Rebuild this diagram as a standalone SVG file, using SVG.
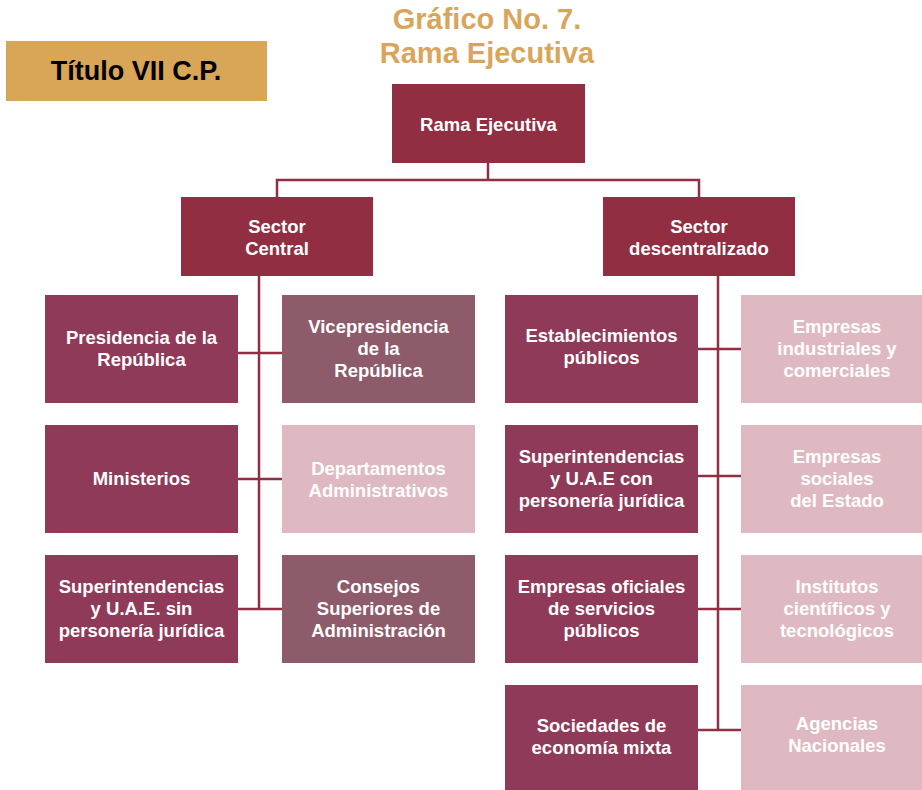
<svg xmlns="http://www.w3.org/2000/svg" width="922" height="790" viewBox="0 0 922 790">
  <style>
    .t { font-family: "Liberation Sans", Arial, Helvetica, sans-serif; font-weight: bold; text-anchor: middle; }
    .lbl { font-size: 18.5px; fill: #ffffff; }
    .head { font-size: 29px; fill: #D9A55B; }
    .dark { fill: #922E42; }
    .rose { fill: #8F3A58; }
    .mauve { fill: #8E5B6B; }
    .light { fill: #DFB9C1; }
    .conn { stroke: #922E42; stroke-width: 2.5; fill: none; }
  </style>
  <rect width="922" height="790" fill="#ffffff"/>

  <!-- heading -->
  <g id="heading">
    <text class="t head" x="487" y="29">Gráfico No. 7.</text>
    <text class="t head" x="487" y="63">Rama Ejecutiva</text>
  </g>

  <g id="titulo">
    <rect x="6" y="41" width="261" height="60" fill="#D9A556"/>
    <text class="t" x="136" y="80" font-size="27" fill="#000000">Título VII C.P.</text>
  </g>

  <!-- connectors -->
  <g id="connectors" class="conn">
    <path d="M488 163 V180 M277 197 V180 H699 V197"/>
    <path d="M259 276 V609 M238 353 H282 M238 479 H282 M238 609 H282"/>
    <path d="M718 276 V730 M698 349 H741 M698 476 H741 M698 609 H741 M698 730 H741"/>
  </g>

  <g id="rama-ejecutiva">
    <rect class="dark" x="392" y="84" width="193" height="79"/>
    <text class="t lbl" x="488.5" y="131">Rama Ejecutiva</text>
  </g>

  <g id="sector-central">
    <rect class="dark" x="181" y="197" width="192" height="79"/>
    <text class="t lbl" x="277" y="233">Sector</text>
    <text class="t lbl" x="277" y="255">Central</text>
  </g>

  <g id="sector-descentralizado">
    <rect class="dark" x="603" y="197" width="192" height="79"/>
    <text class="t lbl" x="699" y="233">Sector</text>
    <text class="t lbl" x="699" y="255">descentralizado</text>
  </g>

  <!-- sector central -->
  <g id="presidencia">
    <rect class="rose" x="45" y="295" width="193" height="108"/>
    <text class="t lbl" x="141.5" y="343.5">Presidencia de la</text>
    <text class="t lbl" x="141.5" y="365.5">República</text>
  </g>
  <g id="vicepresidencia">
    <rect class="mauve" x="282" y="295" width="193" height="108"/>
    <text class="t lbl" x="378.5" y="333">Vicepresidencia</text>
    <text class="t lbl" x="378.5" y="355">de la</text>
    <text class="t lbl" x="378.5" y="377">República</text>
  </g>
  <g id="ministerios">
    <rect class="rose" x="45" y="425" width="193" height="108"/>
    <text class="t lbl" x="141.5" y="485">Ministerios</text>
  </g>
  <g id="departamentos">
    <rect class="light" x="282" y="425" width="193" height="108"/>
    <text class="t lbl" x="378.5" y="475">Departamentos</text>
    <text class="t lbl" x="378.5" y="497">Administrativos</text>
  </g>
  <g id="superintendencias-sin">
    <rect class="rose" x="45" y="555" width="193" height="108"/>
    <text class="t lbl" x="141.5" y="593">Superintendencias</text>
    <text class="t lbl" x="141.5" y="615">y U.A.E. sin</text>
    <text class="t lbl" x="141.5" y="637">personería jurídica</text>
  </g>
  <g id="consejos">
    <rect class="mauve" x="282" y="555" width="193" height="108"/>
    <text class="t lbl" x="378.5" y="593">Consejos</text>
    <text class="t lbl" x="378.5" y="615">Superiores de</text>
    <text class="t lbl" x="378.5" y="637">Administración</text>
  </g>

  <!-- sector descentralizado -->
  <g id="establecimientos">
    <rect class="rose" x="505" y="295" width="193" height="108"/>
    <text class="t lbl" x="601.5" y="342">Establecimientos</text>
    <text class="t lbl" x="601.5" y="364">públicos</text>
  </g>
  <g id="empresas-industriales">
    <rect class="light" x="741" y="295" width="181" height="108"/>
    <text class="t lbl" x="837" y="333">Empresas</text>
    <text class="t lbl" x="837" y="355">industriales y</text>
    <text class="t lbl" x="837" y="377">comerciales</text>
  </g>
  <g id="superintendencias-con">
    <rect class="rose" x="505" y="425" width="193" height="108"/>
    <text class="t lbl" x="601.5" y="463">Superintendencias</text>
    <text class="t lbl" x="601.5" y="485">y U.A.E con</text>
    <text class="t lbl" x="601.5" y="507">personería jurídica</text>
  </g>
  <g id="empresas-sociales">
    <rect class="light" x="741" y="425" width="181" height="108"/>
    <text class="t lbl" x="837" y="463">Empresas</text>
    <text class="t lbl" x="837" y="485">sociales</text>
    <text class="t lbl" x="837" y="507">del Estado</text>
  </g>
  <g id="empresas-oficiales">
    <rect class="rose" x="505" y="555" width="193" height="108"/>
    <text class="t lbl" x="601.5" y="593">Empresas oficiales</text>
    <text class="t lbl" x="601.5" y="615">de servicios</text>
    <text class="t lbl" x="601.5" y="637">públicos</text>
  </g>
  <g id="institutos">
    <rect class="light" x="741" y="555" width="181" height="108"/>
    <text class="t lbl" x="837" y="593">Institutos</text>
    <text class="t lbl" x="837" y="615">científicos y</text>
    <text class="t lbl" x="837" y="637">tecnológicos</text>
  </g>
  <g id="sociedades">
    <rect class="rose" x="505" y="685" width="193" height="105"/>
    <text class="t lbl" x="601.5" y="732">Sociedades de</text>
    <text class="t lbl" x="601.5" y="754">economía mixta</text>
  </g>
  <g id="agencias">
    <rect class="light" x="741" y="685" width="181" height="105"/>
    <text class="t lbl" x="837" y="730">Agencias</text>
    <text class="t lbl" x="837" y="752">Nacionales</text>
  </g>
</svg>
